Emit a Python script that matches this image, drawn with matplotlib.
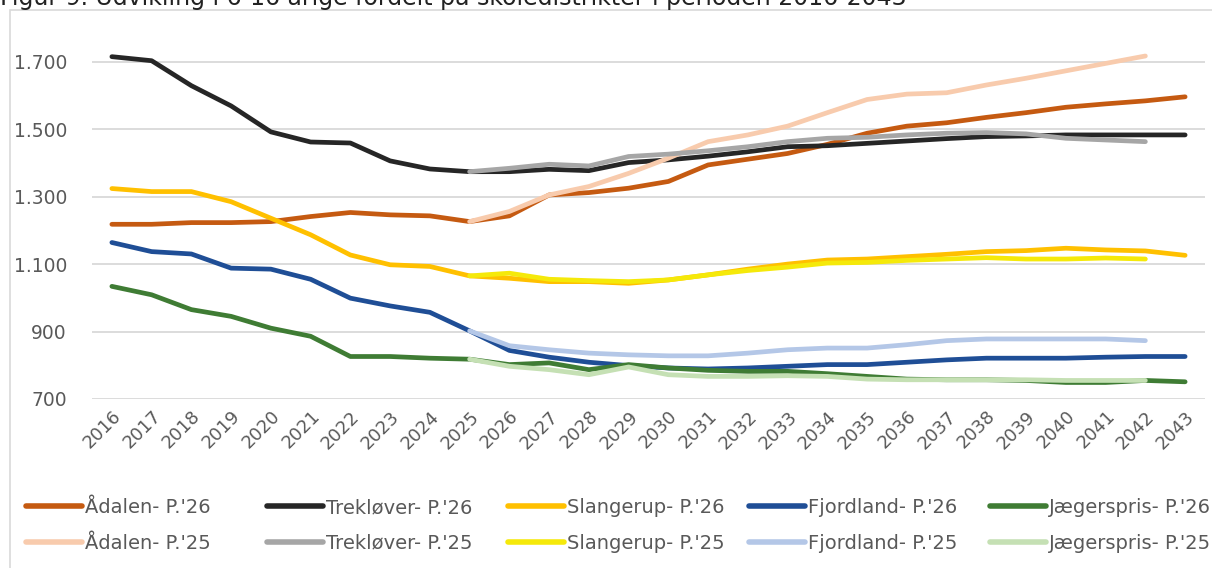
import matplotlib.pyplot as plt
import matplotlib.patches as patches
from matplotlib.ticker import FuncFormatter

# years
years = list(range(2016, 2044))
years_25 = list(range(2025, 2043))

# P.'26 prognose (2016-2043)
aadalen_26 = [1218, 1218, 1223, 1223, 1226, 1241, 1253, 1246, 1243, 1226,
              1243, 1305, 1312, 1325, 1345, 1394, 1411, 1428, 1455, 1488,
              1509, 1519, 1535, 1549, 1565, 1575, 1584, 1596]
treklover_26 = [1715, 1703, 1629, 1569, 1492, 1462, 1459, 1406, 1382, 1374,
                1374, 1381, 1377, 1401, 1409, 1420, 1433, 1448, 1451, 1458,
                1465, 1472, 1478, 1480, 1483, 1483, 1483, 1483]
slangerup_26 = [1324, 1315, 1315, 1285, 1236, 1187, 1127, 1098, 1093, 1065,
                1058, 1048, 1048, 1043, 1053, 1068, 1085, 1100, 1112, 1115,
                1122, 1129, 1137, 1140, 1147, 1142, 1139, 1126]
fjordland_26 = [1164, 1137, 1130, 1088, 1085, 1055, 999, 976, 957, 902,
                844, 824, 809, 799, 792, 789, 792, 797, 802, 802,
                809, 816, 821, 821, 821, 824, 826, 826]
jaegerspris_26 = [1034, 1009, 965, 945, 910, 886, 826, 826, 821, 818,
                  802, 807, 787, 802, 792, 785, 782, 782, 775, 767,
                  759, 757, 757, 755, 749, 749, 755, 751]

# P.'25 prognose (2025-2042)
aadalen_25 = [1226, 1256, 1305, 1330, 1369, 1414, 1463, 1483, 1509, 1549,
              1588, 1604, 1608, 1631, 1651, 1673, 1695, 1717]
treklover_25 = [1374, 1384, 1396, 1391, 1419, 1426, 1436, 1448, 1463, 1473,
                1476, 1483, 1488, 1490, 1486, 1473, 1468, 1463]
slangerup_25 = [1065, 1073, 1055, 1051, 1048, 1053, 1068, 1081, 1091, 1103,
                1105, 1111, 1115, 1119, 1115, 1115, 1118, 1115]
fjordland_25 = [902, 858, 846, 836, 831, 828, 828, 836, 846, 851,
                851, 861, 873, 878, 878, 878, 878, 873]
jaegerspris_25 = [818, 797, 787, 772, 795, 772, 767, 767, 769, 767,
                  759, 757, 757, 757, 757, 755, 755, 755]

names = ['Ådalen', 'Trekløver', 'Slangerup', 'Fjordland', 'Jægerspris']
series_26 = [aadalen_26, treklover_26, slangerup_26, fjordland_26, jaegerspris_26]
series_25 = [aadalen_25, treklover_25, slangerup_25, fjordland_25, jaegerspris_25]
colors_26 = ['#C55A11', '#262626', '#FFC000', '#1F4E96', '#3F7C34']
colors_25 = ['#F8CBAD', '#A6A6A6', '#F5E90A', '#B4C7E7', '#C5E0B4']

title = 'Figur 9. Udvikling i 6-16 årige fordelt på skoledistrikter i perioden 2016-2043'

W, H = 1212, 568
fig = plt.figure(figsize=(W / 100, H / 100), dpi=100)
ax = fig.add_axes([92 / W, 1 - 399 / H, (1205 - 92) / W, (399 - 28) / H])

lw = 3.4
h26, h25 = [], []
for name, vals, c in zip(names, series_26, colors_26):
    ln, = ax.plot(years, vals, color=c, lw=lw, solid_capstyle='round',
                  label=f"{name}- P.'26", zorder=2)
    h26.append(ln)
for name, vals, c in zip(names, series_25, colors_25):
    ln, = ax.plot(years_25, vals, color=c, lw=lw, solid_capstyle='round',
                  label=f"{name}- P.'25", zorder=3)
    h25.append(ln)

ax.set_xlim(2015.5, 2043.5)
ax.set_ylim(700, 1800)
ax.set_yticks([700, 900, 1100, 1300, 1500, 1700])
ax.yaxis.set_major_formatter(FuncFormatter(lambda v, p: f"{int(v):,}".replace(',', '.')))
ax.set_xticks(years)
ax.set_xticklabels([str(y) for y in years], rotation=45, ha='right',
                   rotation_mode='anchor')
ax.grid(axis='y', color='#d9d9d9', lw=1.3, zorder=0)
ax.set_axisbelow(True)
for s in ax.spines.values():
    s.set_visible(False)
ax.tick_params(axis='both', length=0, colors='#595959', labelsize=13)
ax.tick_params(axis='y', labelsize=13.5, pad=18)
ax.tick_params(axis='x', pad=6)

# chart frame
fig.patches.append(patches.Rectangle((10 / W, -0.1), 1.2, 1 - 10 / H + 0.1,
                                     transform=fig.transFigure, fill=False,
                                     edgecolor='#d9d9d9', lw=1.2))

# title, cut off at the top like the source
fig.text(0.0, 1 - 5 / H, title, fontsize=17, va='baseline', ha='left', color='#222222')

# legend: five equally spaced columns
for i in range(5):
    leg = fig.legend([h26[i], h25[i]], [h26[i].get_label(), h25[i].get_label()],
                     loc='center left', bbox_to_anchor=((26 + 241 * i) / W, 1 - 525.5 / H),
                     frameon=False, fontsize=14, handlelength=2.9,
                     handletextpad=0.15, labelspacing=0.85, borderpad=0,
                     borderaxespad=0, labelcolor='#595959')
    for ln in leg.get_lines():
        ln.set_linewidth(4)

fig.savefig('out.png', dpi=100)
